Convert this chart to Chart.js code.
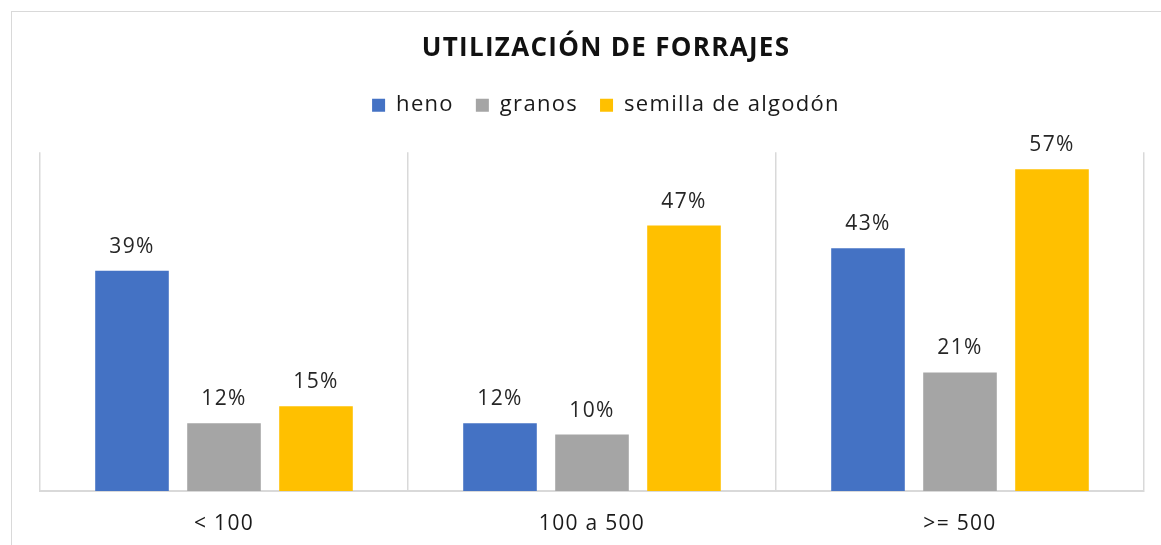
<!DOCTYPE html>
<html>
<head>
<meta charset="utf-8">
<script src="https://cdn.jsdelivr.net/npm/chart.js@4"></script>
<style>
  html, body { margin: 0; padding: 0; background: #fff; overflow: hidden; }
  #frame { position: absolute; left: 11px; top: 11px; width: 1200px; height: 600px; border: 1px solid #d9d9d9; }
  #wrap { position: absolute; left: 0; top: 0; width: 1172px; height: 545px; }
</style>
</head>
<body>
<div id="frame"></div>
<div id="wrap"><canvas id="forrajes-chart"></canvas></div>
<script>
// categorías (cabezas) y series
const categorias = ['< 100', '100 a 500', '>= 500'];
const heno = [39, 12, 43];
const granos = [12, 10, 21];
const semillaAlgodon = [15, 47, 57];
const ejeMax = 60;

const fuente = '"Open Sans", sans-serif';

// etiquetas de valor sobre las barras
const etiquetasValor = {
    id: 'etiquetasValor',
    afterDatasetsDraw(chart) {
        const ctx = chart.ctx;
        ctx.save();
        ctx.font = '21px ' + fuente;
        ctx.fillStyle = '#262626';
        ctx.textAlign = 'center';
        ctx.textBaseline = 'middle';
        chart.data.datasets.forEach((ds, i) => {
            chart.getDatasetMeta(i).data.forEach((bar, j) => {
                ctx.fillText(ds.data[j] + '%', bar.x, bar.y - 24);
            });
        });
        ctx.restore();
    }
};

// espaciado de letras como en el original
const espaciado = {
    id: 'espaciado',
    beforeUpdate(chart) { chart.ctx.letterSpacing = '1.3px'; },
    beforeDraw(chart) { chart.ctx.letterSpacing = '1.3px'; }
};

// espacio extra debajo de la leyenda
const margenLeyenda = {
    id: 'margenLeyenda',
    beforeInit(chart) {
        const fitOriginal = chart.legend.fit;
        chart.legend.fit = function () {
            fitOriginal.bind(chart.legend)();
            this.height += 26;
        };
    }
};

document.addEventListener('DOMContentLoaded', function () {
    const canvas = document.getElementById('forrajes-chart');
    new Chart(canvas, {
        type: 'bar',
        data: {
            labels: categorias,
            datasets: [{
                label: 'heno',
                data: heno,
                backgroundColor: '#4472C4'
            }, {
                label: 'granos',
                data: granos,
                backgroundColor: '#A5A5A5'
            }, {
                label: 'semilla de algodón',
                data: semillaAlgodon,
                backgroundColor: '#FFC000'
            }]
        },
        options: {
            responsive: true,
            maintainAspectRatio: false,
            animation: false,
            categoryPercentage: 0.75,
            barPercentage: 0.8,
            layout: {
                padding: { left: 40, right: 0, top: 20, bottom: 0 }
            },
            plugins: {
                title: {
                    display: true,
                    text: 'UTILIZACIÓN DE FORRAJES',
                    color: '#111',
                    font: { family: fuente, size: 26, weight: 'bold' },
                    padding: { top: 13, bottom: 8 }
                },
                legend: {
                    position: 'top',
                    labels: {
                        color: '#1a1a1a',
                        font: { family: fuente, size: 22 },
                        boxWidth: 13,
                        boxHeight: 13,
                        padding: 22
                    }
                },
                tooltip: { enabled: false }
            },
            scales: {
                x: {
                    grid: {
                        color: '#d9d9d9',
                        lineWidth: 1.5,
                        drawTicks: false
                    },
                    border: { color: '#d9d9d9', width: 2 },
                    ticks: {
                        color: '#1a1a1a',
                        font: { family: fuente, size: 21 },
                        padding: 20
                    },
                    afterFit(axis) { axis.height = 54; }
                },
                y: {
                    position: 'right',
                    min: 0,
                    max: ejeMax,
                    grid: { display: false },
                    border: { display: false },
                    ticks: { display: false },
                    afterFit(axis) { axis.width = 28; }
                }
            }
        },
        plugins: [etiquetasValor, espaciado, margenLeyenda]
    });
});
</script>
</body>
</html>
